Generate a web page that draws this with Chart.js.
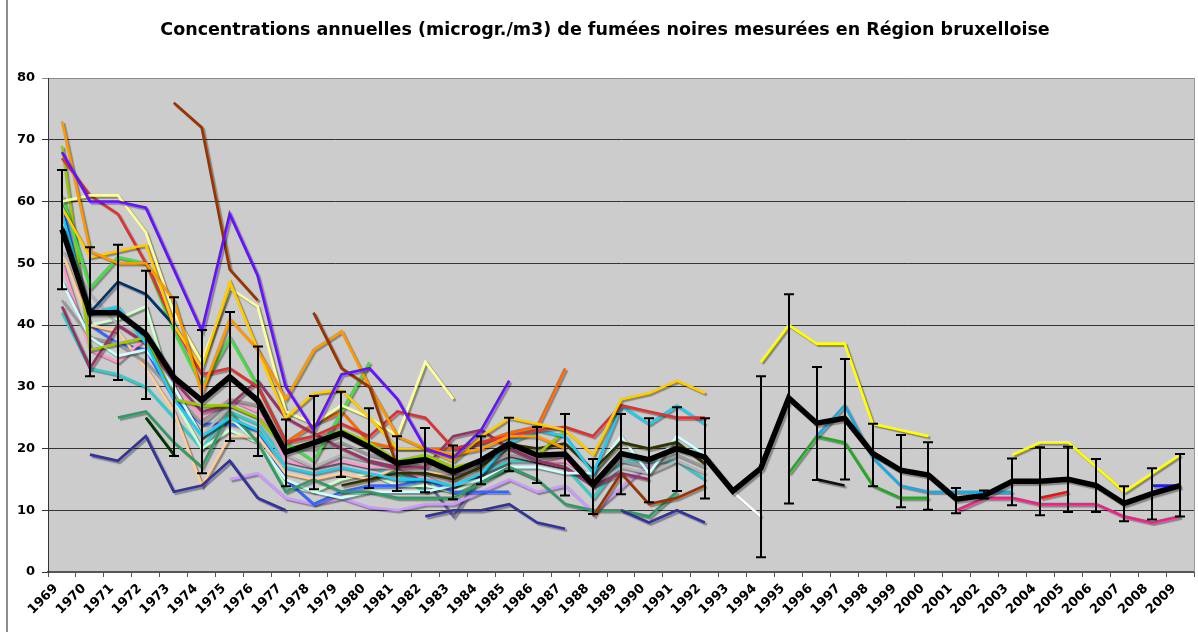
<!DOCTYPE html>
<html>
<head>
<meta charset="utf-8">
<script src="https://cdn.jsdelivr.net/npm/chart.js@4.4.0/dist/chart.umd.min.js"></script>
<style>
    html, body { margin: 0; padding: 0; background: #fff; }
</style>
</head>
<body>
<canvas id="fumees" width="1198" height="632"></canvas>
<script>
// Années (axe des x)
const annees = ["1969","1970","1971","1972","1973","1974","1975","1976","1977","1978",
    "1979","1980","1981","1982","1983","1984","1985","1986","1987","1988",
    "1989","1990","1991","1992","1993","1994","1995","1996","1997","1998",
    "1999","2000","2001","2002","2003","2004","2005","2006","2007","2008","2009"];

// Moyenne régionale + barres d'erreur
const moyenne = [55.5,42,42,38.5,31.5,27.8,31.6,27.8,19.4,20.9,22.5,20.2,17.6,18.2,16.2,18.1,20.8,18.9,19.1,14.1,
    19.2,18.2,20,18.6,13.1,16.8,28.2,24.1,24.9,19.2,16.5,15.7,11.8,12.4,14.7,14.7,15,14,11.1,12.7,14];
const erreurHaut = [65.1,52.6,53,48.8,44.5,39.2,42.1,36.5,24.7,28.5,29.2,26.5,22,23.3,20.5,22,25,23.5,25.6,18.3,
    25.6,24.9,26.7,24.9,null,31.7,45,33.2,34.5,24,22.2,21,13.6,13.2,18.4,20.2,20.3,18.3,13.9,16.8,19.1];
const erreurBas = [45.8,31.7,31.1,28,18.8,16,21.2,18.8,13.9,13.4,15.4,13.6,13.1,12.9,11.8,14.2,16.3,14.4,12.4,9.4,
    12.6,11.3,13.1,11.9,null,2.4,11.1,14.9,15,13.9,10.5,10.1,9.5,11.9,10.8,9.2,9.7,9.7,8.2,8.5,9.0];

// Stations 1969 -> 1992
const violet     = [68,60,60,59,49,39,58,48,30,23,32,33,28,20,18.5,23,31];
const brun       = [null,null,null,null,76,72,49,44,null,42,33,30,17,null,null,null,null,null,null,9,16,11,12,14];
const orange     = [73,52,50,50,44,29,41,36,28,36,39,30,22,20,19,20,22,22,20];
const or         = [59,51,52,53,40,33,47,36,25,29,29.5,25,20,20,18,22,25,24,23,19,28,29,31,29];
const jaunePale  = [60,61,61,55,42,34,46,43,26,24,27,25,22,34,28];
const rouge      = [67,61,58,50,40,32,33,30,21,22,24,22,26,25,20,21,22,23,23.5,22,27,26,25,25];
const cyan       = [58,42,43,37,28,22,25,23,17,16,17,16,15,15,14,16,21,23,22,16,27,24,27,24];
const marine     = [null,19,18,22,13,14,18,12,10,null,null,null,null,9,10,10,11,8,7,null,10,8,10,8];
const bleuNuit   = [56,42,47,45,40];
const vert       = [61,46,51,50,39,30,38,30,21,18,26,34];
const vertOlive  = [69,36,37,38,28,27,27,25,20,21,23,21,18,19,17,18,21,19,23];
const vertMer    = [null,null,25,26,21,17,26,21,13,15,13,13,12,12,12,14.5,17,15,11,10,10,9,13];
const vertFonce  = [null,null,null,25,19];
const olive      = [null,null,null,null,null,null,null,null,null,null,14,15,16,16,15,17,20.7,20,20.8,16.5,21,20,21,17.5];
const cyanPale   = [47,38,35,36,30,22,25,21,15,13,12,13,13,13,14,15,17,17,16,16,22,16,22,19];
const prune      = [43,33,40,37,31,26,27,31,25,22.5,20,18,17,17,22,23,20,18,17,14,16,15];
const gris       = [44,38,37,34,29,24,28,27,20,20,21,19,18,17,16,17,19,18,19,15,18,17,19,17];
const grisClair  = [52,45,40,38,30,22,27,25,19,17,19,18,17,16,14,16,20,18,17,14,17,16,18,16];
const rose       = [50,36,34,38,30,25,28,26,18,17,18,17,17,15,15,18,19,18,18,15];
const peche      = [52,40,39,33,26,14,22,22,16,15,16,15,17,16,16,18,19,18,17,14];
const bleu       = [60,40,37,36,28,24,24,23,15,11,13,14,14,15,13,13,13];
const vertClair  = [null,40,41,43,28,20,23,21,14,13,15,16,14,14,13,15,17,15];
const turquoise  = [42,33,32,30,25,20,26,24,18,17,18,17,16,13,14,16,18,18,17,12,18,18,18,15];
const orangeVif  = [null,null,null,null,null,null,null,null,21,24,26,21,20,20,20,21,22.6,23.6,33];
const lavande    = [null,null,null,null,null,null,15,16,12,11,12,10.5,10,11,11,13,15,13,14,9.7,13.7,17.8];
const ardoise    = [null,null,null,null,null,null,null,null,null,null,null,null,16,15,9,16,18];

// Stations 1993 -> 2009
const blanc93 = [13,9];
const jaune93 = [null,34,40,37,37,24,23,22,null,null,19,21,21,17,13,16,19];
const cyan93  = [null,null,null,22,27,18.5,14,13,13,13,13];
const vert93  = [null,null,16,22,21,14,12,12];
const noir93  = [null,null,null,15,14];
const rose93  = [null,null,null,null,null,null,null,null,10,12,12,11,11,11,9,8,9];
const rouge93 = [null,null,null,null,null,null,null,null,null,null,null,12,13];
const bleu93  = [null,null,null,null,null,null,null,null,null,null,null,null,null,null,null,14,14];

function pad(arr, debut) {
    const out = annees.map(() => null);
    arr.forEach((v, i) => { out[debut + i] = v; });
    return out;
}

const stations = [
    [violet, "#6611ff", 0], [brun, "#993300", 0], [orange, "#ff9900", 0], [or, "#ffcc00", 0],
    [jaunePale, "#ffff99", 0], [rouge, "#dd3333", 0], [cyan, "#22ccee", 0], [marine, "#333399", 0],
    [bleuNuit, "#003366", 0], [vert, "#44dd44", 0], [vertOlive, "#99cc00", 0], [vertMer, "#339966", 0],
    [vertFonce, "#003300", 0], [olive, "#333300", 0], [cyanPale, "#ccffff", 0], [prune, "#993366", 0],
    [gris, "#999999", 0], [grisClair, "#b4b4b4", 0], [rose, "#ff99cc", 0], [peche, "#ffcc99", 0],
    [bleu, "#3366ff", 0], [vertClair, "#ccffcc", 0], [turquoise, "#33cccc", 0], [orangeVif, "#ff6600", 0],
    [lavande, "#cc99ff", 0], [ardoise, "#666699", 0],
    [blanc93, "#ffffff", 24], [jaune93, "#ffff00", 24], [cyan93, "#1fa8e0", 24], [vert93, "#22aa22", 24],
    [noir93, "#111111", 24], [rose93, "#ee2288", 24], [rouge93, "#ee1111", 24], [bleu93, "#2222dd", 24]
];

const datasets = [{
    label: "Moyenne",
    data: moyenne,
    borderColor: "#000000",
    borderWidth: 5.5,
    pointRadius: 0,
    spanGaps: false
}];
stations.forEach(([valeurs, couleur, debut], i) => {
    datasets.push({
        label: "Station " + (i + 1),
        data: pad(valeurs, debut),
        borderColor: couleur,
        borderWidth: 2.7,
        pointRadius: 0,
        spanGaps: false
    });
});

// fond gris, ombres et barres d'erreur
const decor = {
    id: "decor",
    beforeDraw(chart) {
        const { ctx, chartArea: a } = chart;
        ctx.save();
        ctx.fillStyle = "#cccccc";
        ctx.fillRect(a.left, a.top, a.right - a.left, a.bottom - a.top);
        ctx.strokeStyle = "#8c8c8c";
        ctx.lineWidth = 2;
        ctx.beginPath();
        ctx.moveTo(7, 0);
        ctx.lineTo(7, chart.height);
        ctx.stroke();
        ctx.restore();
    },
    beforeDatasetsDraw(chart) {
        const ctx = chart.ctx;
        ctx.save();
        ctx.shadowColor = "rgba(0,0,0,0.35)";
        ctx.shadowOffsetX = 2;
        ctx.shadowOffsetY = 2;
        ctx.shadowBlur = 1;
    },
    afterDatasetsDraw(chart) {
        const { ctx, scales: { x, y }, chartArea: a } = chart;
        ctx.restore();
        ctx.save();
        ctx.strokeStyle = "#000";
        ctx.lineWidth = 2;
        moyenne.forEach((v, i) => {
            if (erreurHaut[i] == null) return;
            const px = Math.round(x.getPixelForValue(i));
            const yh = y.getPixelForValue(erreurHaut[i]);
            const yb = y.getPixelForValue(erreurBas[i]);
            ctx.beginPath();
            ctx.moveTo(px, yh); ctx.lineTo(px, yb);
            ctx.moveTo(px - 5, yh); ctx.lineTo(px + 5, yh);
            ctx.moveTo(px - 5, yb); ctx.lineTo(px + 5, yb);
            ctx.stroke();
        });
        ctx.strokeStyle = "#999";
        ctx.lineWidth = 1;
        ctx.beginPath();
        ctx.moveTo(a.right + 0.5, a.top);
        ctx.lineTo(a.right + 0.5, a.bottom);
        ctx.stroke();
        ctx.restore();
    }
};

new Chart(document.getElementById("fumees").getContext("2d"), {
    type: "line",
    data: { labels: annees, datasets: datasets },
    options: {
        responsive: false,
        animation: false,
        devicePixelRatio: 1,
        events: [],
        layout: { padding: { left: 16, right: 4, top: 0, bottom: 0 } },
        elements: { line: { tension: 0 } },
        plugins: {
            legend: { display: false },
            tooltip: { enabled: false },
            title: {
                display: true,
                text: "Concentrations annuelles (microgr./m3) de fumées noires mesurées en Région bruxelloise",
                color: "#000",
                font: { family: "DejaVu Sans", size: 17.5, weight: "bold" },
                padding: { top: 20, bottom: 37 }
            }
        },
        scales: {
            x: {
                type: "category",
                offset: true,
                grid: { offset: true, drawOnChartArea: false, drawTicks: true, tickLength: 5, color: "#555" },
                border: { color: "#555", width: 2 },
                ticks: {
                    autoSkip: false, minRotation: 45, maxRotation: 45,
                    padding: 4, labelOffset: -6, color: "#000",
                    font: { family: "DejaVu Sans", size: 13, weight: "bold" }
                },
                afterFit(scale) { scale.height = 60; }
            },
            y: {
                min: 0, max: 80,
                ticks: {
                    stepSize: 10, padding: 7, color: "#000",
                    font: { family: "DejaVu Sans", size: 13, weight: "bold" }
                },
                grid: {
                    tickLength: 6,
                    color: (c) => c.tick && c.tick.value === 80 ? "#8c8c8c" : "#333333",
                    lineWidth: 1
                },
                border: { color: "#333", width: 1 },
                afterFit(scale) { scale.width = 32; }
            }
        }
    },
    plugins: [decor]
});
</script>
</body>
</html>
